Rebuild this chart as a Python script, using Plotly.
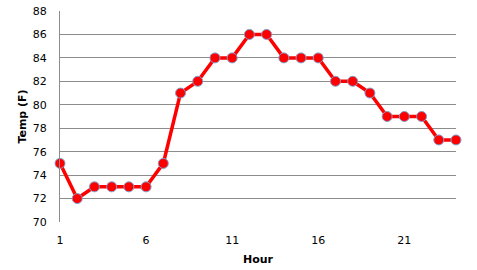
import plotly.graph_objects as go

hours = list(range(1, 25))
temps = [75, 72, 73, 73, 73, 73, 75, 81, 82, 84, 84, 86, 86, 84, 84, 84, 82, 82, 81, 79, 79, 79, 77, 77]
x_ticks = [1, 6, 11, 16, 21]
y_ticks = list(range(70, 89, 2))

fig = go.Figure()
fig.add_trace(go.Scatter(
    x=hours, y=temps, mode="lines+markers",
    line=dict(color="#ff0000", width=3.5),
    marker=dict(size=10, color="#ff0000", line=dict(color="#7f9fcf", width=1)),
    cliponaxis=False,
))
fig.update_layout(
    width=477, height=270,
    margin=dict(l=60, r=21, t=11, b=48, autoexpand=False),
    paper_bgcolor="white", plot_bgcolor="white",
    showlegend=False,
    font=dict(family="DejaVu Sans", size=11, color="black"),
    xaxis=dict(
        range=[1, 24], tickvals=x_ticks, showgrid=False, zeroline=False,
        showline=False, ticks="", ticklen=0, automargin=False,
        ticklabelstandoff=10,
        title=dict(text="<b>Hour</b>", font=dict(size=11), standoff=9),
    ),
    yaxis=dict(
        range=[70, 88], tickvals=y_ticks, showgrid=True, gridcolor="#8c8c8c",
        gridwidth=1, zeroline=False, showline=True, linecolor="#8c8c8c",
        ticks="", ticklabelstandoff=10, automargin=False,
        title=dict(text="<b>Temp (F)</b>", font=dict(size=11), standoff=3),
    ),
)
fig.write_html("out.html")
